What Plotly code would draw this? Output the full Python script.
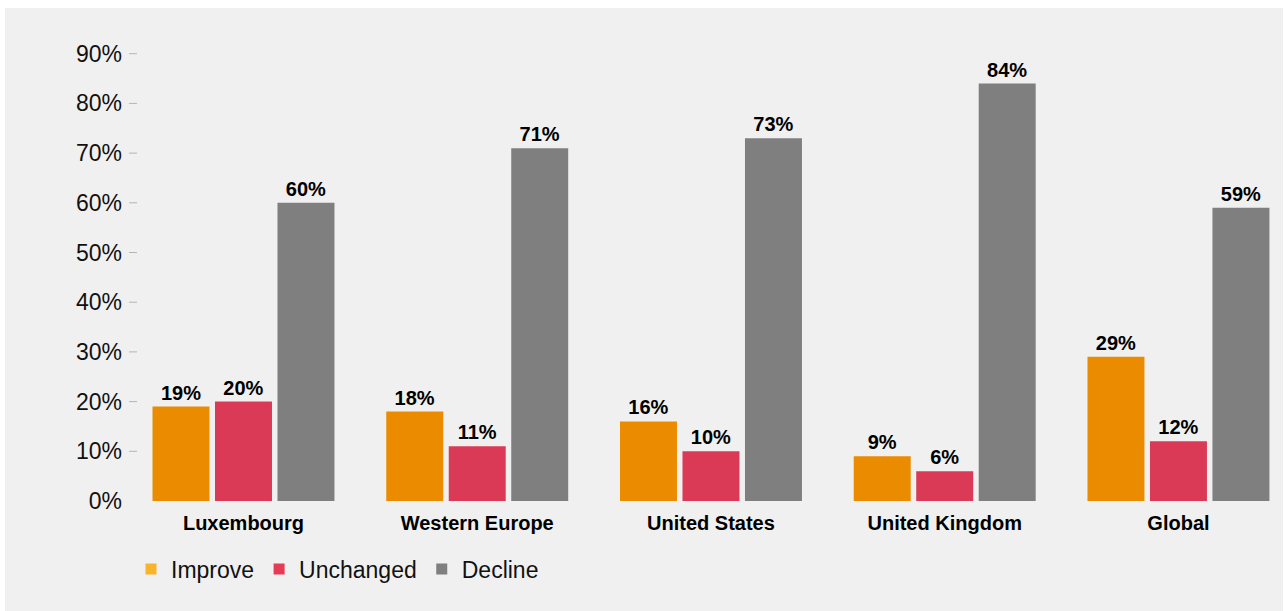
import plotly.graph_objects as go

# Survey outcome shares by region (percent)
regions = ["Luxembourg", "Western Europe", "United States", "United Kingdom", "Global"]
improve = [19, 18, 16, 9, 29]
unchanged = [20, 11, 10, 6, 12]
decline = [60, 71, 73, 84, 59]
series_names = ["Improve", "Unchanged", "Decline"]
tick_values = [0, 10, 20, 30, 40, 50, 60, 70, 80, 90]
tick_labels = [f"{v}%" for v in tick_values]

bar_colors = ["#eb8c00", "#db3a56", "#7f7f7f"]
legend_colors = ["#f9b42a", "#e63b57", "#7f7f7f"]

FONT = "Liberation Sans, Arial, Helvetica, sans-serif"

# Figure geometry in pixels
W, H = 1285, 611
ML, MR, MT, MB = 137, 3, 30, 110
PW, PH = W - ML - MR, H - MT - MB


def px_x(px):
    return (px - ML) / PW


def px_y(py):
    return (H - MB - py) / PH


fig = go.Figure()
for name, vals, col in zip(series_names, [improve, unchanged, decline], bar_colors):
    fig.add_trace(go.Bar(
        x=regions, y=vals, name=name, marker=dict(color=col, line=dict(width=0)),
        text=[f"{v}%" for v in vals], textposition="outside",
        textfont=dict(family=FONT, size=20, color="#000000", weight="bold"),
        cliponaxis=False, showlegend=False,
    ))

# Legend entries with their own swatch colours
for name, col in zip(series_names, legend_colors):
    fig.add_trace(go.Scatter(
        x=[None], y=[None], mode="markers", name=name,
        marker=dict(symbol="square", size=11, color=col),
    ))

shapes = [
    # light grey panel behind the chart
    dict(type="rect", xref="paper", yref="paper", layer="below",
         x0=px_x(5), x1=px_x(1283), y0=px_y(611), y1=px_y(8),
         fillcolor="#f0f0f0", line=dict(width=0)),
]
# short tick dashes beside the value labels (none at zero)
for v in tick_values[1:]:
    shapes.append(dict(type="line", xref="paper", yref="y",
                       x0=px_x(129), x1=px_x(137), y0=v, y1=v,
                       line=dict(color="#b4b4b4", width=1)))

fig.update_layout(
    width=W, height=H,
    margin=dict(l=ML, r=MR, t=MT, b=MB),
    paper_bgcolor="#ffffff", plot_bgcolor="rgba(0,0,0,0)",
    barmode="group", bargap=0.198, bargroupgap=0.088,
    font=dict(family=FONT, color="#111111"),
    shapes=shapes,
    xaxis=dict(type="category", range=[-0.4556, 4.443], showgrid=False,
               showline=False, zeroline=False, ticks="", ticklabelstandoff=8,
               tickfont=dict(family=FONT, size=20, color="#000000", weight="bold")),
    yaxis=dict(range=[0, 94.77], tickvals=tick_values, ticktext=tick_labels,
               showgrid=False, showline=False, zeroline=False, ticks="",
               ticklabelstandoff=14,
               tickfont=dict(family=FONT, size=23, color="#111111")),
    legend=dict(orientation="h", x=px_x(131), xanchor="left", y=px_y(569), yanchor="middle",
                font=dict(family=FONT, size=23, color="#111111"),
                bgcolor="rgba(0,0,0,0)", itemclick=False),
)

fig.write_html("out.html")
